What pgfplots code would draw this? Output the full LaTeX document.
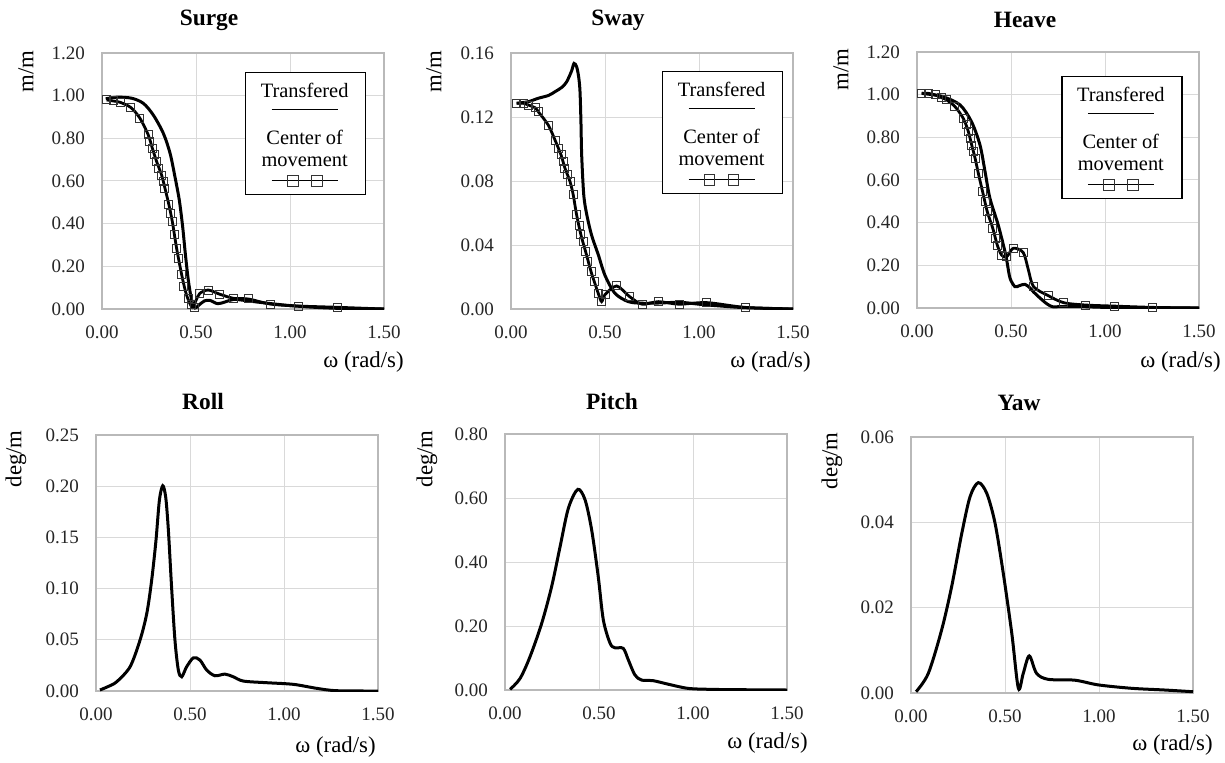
\documentclass[border=0pt]{standalone}
\usepackage{fontspec}
\setmainfont{Liberation Serif}
\usepackage{pgfplots}
\pgfplotsset{compat=1.18}
\pgfplotsset{
  myax/.style={
    scale only axis, width=141pt, height=128pt,
    xmin=0, xmax=1.5, xtick={0,0.5,1,1.5},
    grid=major, grid style={gray!30, line width=0.5pt},
    axis line style={gray!55, line width=0.6pt},
    major tick length=0pt,
    scaled ticks=false,
    tick label style={font=\fontsize{9.5}{11}\selectfont, text=black!85},
    xticklabel style={yshift=-5pt},
    yticklabel style={xshift=-5pt},
    /pgf/number format/fixed,
    /pgf/number format/fixed zerofill,
    /pgf/number format/precision=2,
    /pgf/number format/assume math mode=true,
    clip=true,
  },
  mylegend/.style={
    legend style={at={(#1)}, anchor=north west, draw=black, line width=0.7pt, fill=white,
      inner sep=0pt, column sep=0pt, row sep=0pt, nodes={inner sep=0pt, text depth=0pt}},
    legend plot pos=left,
  },
  legendA/.style={legend image code/.code={
    \path[draw=none, fill=none] (-29.5pt,9pt) rectangle (29.5pt,-16.5pt);
    \node[inner sep=0pt, draw=none, fill=none, text=black, font=\fontsize{10.2}{11}\selectfont] at (0pt,0pt) {Transfered};
    \draw[black, line width=0.6pt] (-16.5pt,-9.5pt) -- (16.5pt,-9.5pt);
  }},
  legendB/.style={legend image code/.code={
    \path[draw=none, fill=none] (-29.5pt,12.5pt) rectangle (29.5pt,-23pt);
    \node[inner sep=0pt, draw=none, fill=none, text=black, align=center, font=\fontsize{10.2}{11}\selectfont] at (0pt,0pt) {Center of\\movement};
    \draw[black, line width=0.6pt] (-16.5pt,-16pt) -- (16.5pt,-16pt);
    \draw[black!80, line width=0.7pt, mark=square, mark size=2.7pt, only marks] plot coordinates {(-6pt,-16pt) (6pt,-16pt)};
  }},
  tline/.style={black, line width=1.5pt, smooth},
  cline/.style={black, line width=1.4pt, smooth},
  cmark/.style={only marks, mark=square, mark size=2pt, draw=black!80, mark options={line width=0.5pt}},
}
\newcommand{\ttl}[1]{\fontsize{11.7}{14}\selectfont\bfseries #1}
\newcommand{\lbl}{\fontsize{11.4}{13}\selectfont}
\begin{document}
\begin{tikzpicture}
% ---------------- Surge ----------------
\begin{axis}[myax, at={(51pt,226.5pt)}, anchor=south west,
  ymin=0, ymax=1.2, ytick={0,0.2,0.4,0.6,0.8,1.0,1.2}, mylegend={0.507,0.926}]
\addplot[tline, legendA] table {
0.02 0.985
0.08 0.993
0.158 0.988
0.22 0.964
0.273 0.909
0.326 0.824
0.362 0.73
0.388 0.62
0.411 0.511
0.429 0.386
0.443 0.261
0.459 0.136
0.477 0.042
0.495 0.005
0.515 0.018
0.545 0.038
0.575 0.04
0.615 0.025
0.655 0.033
0.70 0.045
0.76 0.04
0.85 0.03
1.00 0.016
1.15 0.007
1.30 0.002
1.50 0.0
};
\addlegendentry{\mbox{}}
\addplot[cline, forget plot] table {
0.025 0.98
0.06 0.975
0.096 0.969
0.154 0.944
0.202 0.894
0.246 0.816
0.268 0.753
0.291 0.69
0.317 0.628
0.335 0.566
0.356 0.488
0.374 0.41
0.397 0.284
0.424 0.16
0.445 0.08
0.465 0.03
0.482 0.008
0.50 0.04
0.52 0.073
0.565 0.089
0.624 0.07
0.70 0.05
0.778 0.047
0.897 0.023
1.044 0.014
1.254 0.008
1.50 0.0
};
\addplot[cmark, legendB] table {
0.025 0.98
0.06 0.975
0.096 0.969
0.154 0.944
0.202 0.894
0.246 0.816
0.255 0.784
0.268 0.753
0.278 0.722
0.291 0.69
0.30 0.66
0.317 0.628
0.326 0.597
0.335 0.566
0.356 0.488
0.367 0.449
0.374 0.41
0.385 0.347
0.397 0.284
0.406 0.238
0.424 0.16
0.432 0.105
0.459 0.05
0.477 0.019
0.49 0.008
0.52 0.073
0.565 0.089
0.624 0.07
0.70 0.05
0.778 0.047
0.897 0.023
1.044 0.014
1.254 0.008
};
\addlegendentry{\mbox{}}
\end{axis}
% ---------------- Sway ----------------
\begin{axis}[myax, at={(255.5pt,226.5pt)}, anchor=south west,
  ymin=0, ymax=0.16, ytick={0,0.04,0.08,0.12,0.16}, mylegend={0.535,0.93}]
\addplot[tline, legendA] table {
0.03 0.1286
0.09 0.1295
0.145 0.1317
0.20 0.1335
0.234 0.1358
0.27 0.1385
0.296 0.142
0.323 0.149
0.335 0.1535
0.349 0.1514
0.360 0.145
0.367 0.136
0.372 0.117
0.376 0.096
0.387 0.0713
0.403 0.059
0.429 0.046
0.464 0.034
0.50 0.021
0.553 0.0098
0.624 0.0046
0.70 0.0036
0.80 0.0038
0.90 0.0042
1.00 0.003
1.10 0.002
1.25 0.0008
1.50 0.0
};
\addlegendentry{\mbox{}}
\addplot[cline, forget plot] table {
0.03 0.1286
0.066 0.1286
0.092 0.1275
0.128 0.1258
0.145 0.1233
0.198 0.115
0.234 0.1056
0.266 0.0963
0.287 0.088
0.314 0.0796
0.331 0.0713
0.349 0.0588
0.372 0.0463
0.397 0.0358
0.426 0.0233
0.443 0.0171
0.464 0.0098
0.482 0.0046
0.50 0.009
0.562 0.0144
0.628 0.008
0.697 0.003
0.784 0.0046
0.894 0.003
1.041 0.004
1.248 0.001
1.50 0.0
};
\addplot[cmark, legendB] table {
0.03 0.1286
0.066 0.1286
0.092 0.1275
0.128 0.1258
0.145 0.1233
0.198 0.115
0.234 0.1056
0.252 0.1004
0.266 0.0963
0.278 0.092
0.287 0.088
0.301 0.0838
0.314 0.0796
0.331 0.0713
0.349 0.0588
0.362 0.0525
0.372 0.0463
0.385 0.042
0.397 0.0358
0.408 0.0296
0.426 0.0233
0.443 0.0171
0.464 0.0098
0.482 0.0046
0.50 0.009
0.562 0.0144
0.628 0.008
0.697 0.003
0.784 0.0046
0.894 0.003
1.041 0.004
1.248 0.001
};
\addlegendentry{\mbox{}}
\end{axis}
% ---------------- Heave ----------------
\begin{axis}[myax, at={(458.5pt,227pt)}, anchor=south west,
  ymin=0, ymax=1.2, ytick={0,0.2,0.4,0.6,0.8,1.0,1.2}, mylegend={0.511,0.906}]
\addplot[tline, legendA] table {
0.025 1.006
0.08 1.0
0.14 0.99
0.229 0.952
0.29 0.873
0.335 0.764
0.362 0.639
0.388 0.514
0.432 0.389
0.468 0.264
0.48 0.21
0.495 0.139
0.521 0.10
0.545 0.105
0.574 0.111
0.60 0.095
0.619 0.076
0.65 0.05
0.69 0.02
0.72 0.006
0.75 0.006
0.85 0.007
1.0 0.003
1.2 0.001
1.5 0.0
};
\addlegendentry{\mbox{}}
\addplot[cline, forget plot] table {
0.025 1.006
0.06 1.006
0.096 0.999
0.131 0.986
0.158 0.975
0.202 0.944
0.246 0.889
0.273 0.827
0.291 0.764
0.309 0.702
0.326 0.632
0.349 0.545
0.374 0.451
0.403 0.374
0.427 0.295
0.45 0.248
0.477 0.24
0.512 0.28
0.565 0.26
0.592 0.18
0.62 0.10
0.698 0.058
0.78 0.025
0.897 0.014
1.048 0.009
1.254 0.003
1.5 0.0
};
\addplot[cmark, legendB] table {
0.025 1.006
0.06 1.006
0.096 0.999
0.131 0.986
0.158 0.975
0.202 0.944
0.246 0.889
0.261 0.858
0.273 0.827
0.282 0.796
0.291 0.764
0.30 0.733
0.309 0.702
0.326 0.632
0.349 0.545
0.362 0.498
0.374 0.451
0.388 0.42
0.403 0.374
0.415 0.327
0.427 0.295
0.45 0.248
0.477 0.24
0.512 0.28
0.565 0.26
0.62 0.10
0.698 0.058
0.78 0.025
0.897 0.014
1.048 0.009
1.254 0.003
};
\addlegendentry{\mbox{}}
\end{axis}
% ---------------- Roll ----------------
\begin{axis}[myax, at={(48pt,35.5pt)}, anchor=south west,
  ymin=0, ymax=0.25, ytick={0,0.05,0.1,0.15,0.2,0.25}]
\addplot[tline] table {
0.021 0.001
0.06 0.004
0.11 0.009
0.181 0.0236
0.234 0.0496
0.27 0.0756
0.296 0.108
0.319 0.147
0.337 0.186
0.355 0.2004
0.371 0.189
0.385 0.157
0.402 0.1015
0.42 0.0496
0.438 0.0204
0.456 0.0139
0.482 0.0236
0.518 0.0324
0.553 0.0302
0.589 0.0204
0.633 0.0149
0.686 0.0165
0.73 0.0139
0.784 0.0097
0.908 0.0081
1.05 0.0065
1.174 0.0026
1.28 0.0003
1.5 0.0
};
\end{axis}
% ---------------- Pitch ----------------
\begin{axis}[myax, at={(252.5pt,36pt)}, anchor=south west,
  ymin=0, ymax=0.8, ytick={0,0.2,0.4,0.6,0.8}]
\addplot[tline] table {
0.027 0.002
0.08 0.036
0.133 0.104
0.195 0.208
0.248 0.323
0.293 0.448
0.337 0.568
0.387 0.627
0.426 0.594
0.461 0.50
0.496 0.354
0.523 0.219
0.559 0.146
0.585 0.132
0.629 0.13
0.656 0.094
0.691 0.047
0.727 0.031
0.789 0.029
0.869 0.018
0.975 0.005
1.1 0.002
1.24 0.001
1.5 0.0
};
\end{axis}
% ---------------- Yaw ----------------
\begin{axis}[myax, at={(455.5pt,34.5pt)}, anchor=south west,
  ymin=0, ymax=0.06, ytick={0,0.02,0.04,0.06}]
\addplot[tline] table {
0.027 0.0003
0.092 0.0046
0.163 0.0148
0.216 0.0249
0.27 0.0374
0.314 0.046
0.358 0.0493
0.403 0.0468
0.447 0.0398
0.491 0.028
0.536 0.014
0.571 0.0011
0.597 0.0046
0.629 0.0087
0.668 0.0046
0.73 0.0032
0.872 0.003
0.996 0.0019
1.174 0.0011
1.35 0.0007
1.5 0.0003
};
\end{axis}
% ---------------- texts ----------------
\node[inner sep=0pt] at (104.5pt,371pt) {\ttl{Surge}};
\node[inner sep=0pt] at (309pt,371pt) {\ttl{Sway}};
\node[inner sep=0pt] at (512.5pt,371pt) {\ttl{Heave}};
\node[inner sep=0pt] at (101.5pt,180.5pt) {\ttl{Roll}};
\node[inner sep=0pt] at (306pt,180.5pt) {\ttl{Pitch}};
\node[inner sep=0pt] at (509.5pt,179.5pt) {\ttl{Yaw}};
\node[inner sep=0pt, rotate=90, anchor=east] at (13pt,356pt) {\lbl m/m};
\node[inner sep=0pt, rotate=90, anchor=east] at (217pt,356pt) {\lbl m/m};
\node[inner sep=0pt, rotate=90, anchor=east] at (420.5pt,357pt) {\lbl m/m};
\node[inner sep=0pt, rotate=90, anchor=east] at (8pt,166pt) {\lbl deg/m};
\node[inner sep=0pt, rotate=90, anchor=east] at (213.5pt,166pt) {\lbl deg/m};
\node[inner sep=0pt, rotate=90, anchor=east] at (416pt,165pt) {\lbl deg/m};
\node[inner sep=0pt, anchor=west] at (161.5pt,200pt) {\lbl ω (rad/s)};
\node[inner sep=0pt, anchor=west] at (365pt,200pt) {\lbl ω (rad/s)};
\node[inner sep=0pt, anchor=west] at (570pt,200pt) {\lbl ω (rad/s)};
\node[inner sep=0pt, anchor=west] at (147.5pt,7.5pt) {\lbl ω (rad/s)};
\node[inner sep=0pt, anchor=west] at (363.5pt,9.5pt) {\lbl ω (rad/s)};
\node[inner sep=0pt, anchor=west] at (566pt,8.5pt) {\lbl ω (rad/s)};
\pgfresetboundingbox
\path[use as bounding box] (0pt,0pt) rectangle (612.5pt,381pt);
\end{tikzpicture}
\end{document}
